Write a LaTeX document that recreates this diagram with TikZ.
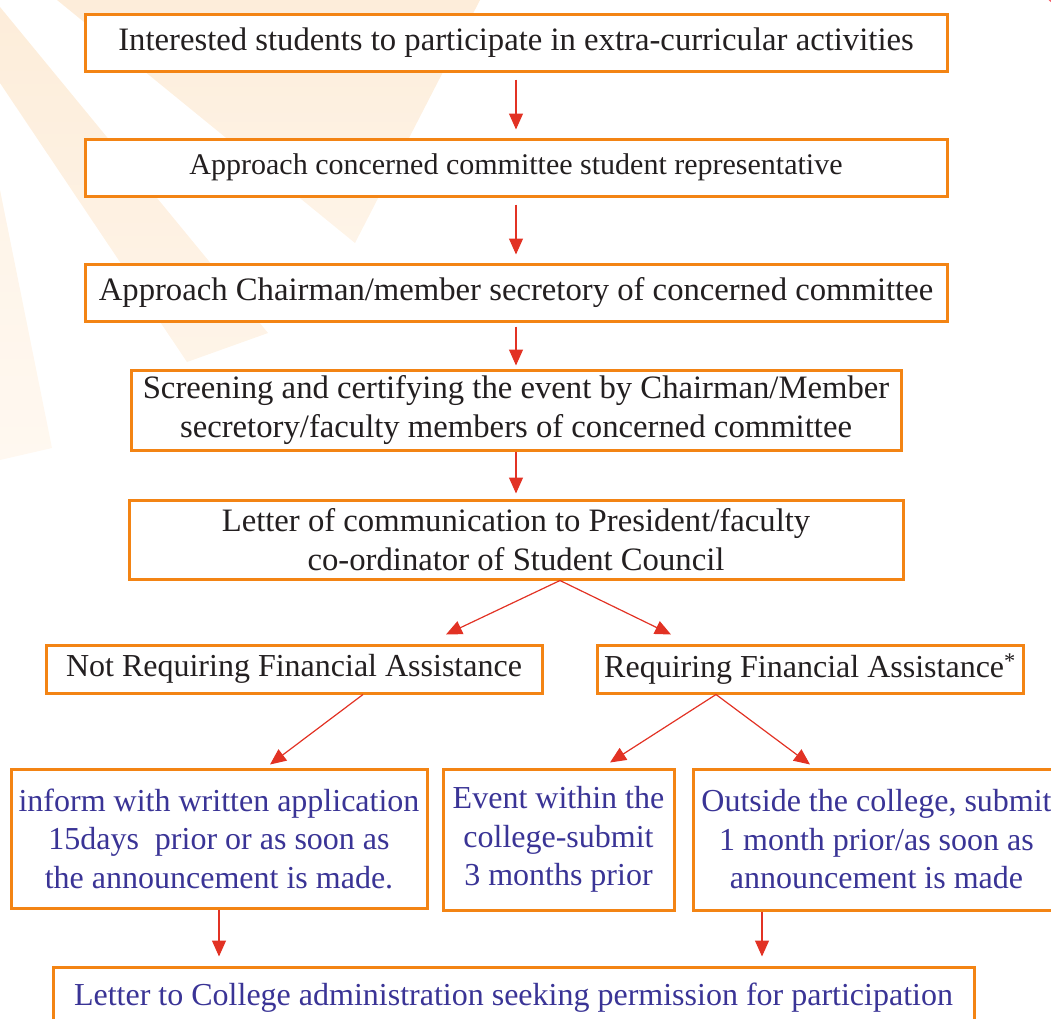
\documentclass[tikz,border=0pt]{standalone}
\usepackage{fontspec}
\setmainfont{Liberation Serif}
\usetikzlibrary{arrows.meta,calc}
\definecolor{boxorange}{RGB}{243,132,20}
\definecolor{arrred}{RGB}{226,50,36}
\definecolor{txtblue}{RGB}{58,52,150}
\definecolor{txtblack}{RGB}{35,31,32}
\definecolor{rayTop}{RGB}{253,237,218}
\definecolor{rayMid}{RGB}{254,244,232}
\definecolor{rayLow}{RGB}{255,248,240}
\definecolor{sunred}{RGB}{245,95,105}
\begin{document}
\begin{tikzpicture}[x=1pt,y=-1pt,
  box/.style={draw=boxorange, line width=3pt, fill=white, inner sep=0pt, align=center,
    text=txtblack, font=\fontsize{32}{38.5}\selectfont},
  bigbox/.style={box, font=\fontsize{32.7}{38.5}\selectfont},
  bluebox/.style={box, text=txtblue},
  arr/.style={draw=arrred, line width=1.2pt, -{Triangle[length=16pt,width=14pt]}}]
\useasboundingbox (0,0) rectangle (1051,1018);
\clip (0,0) rectangle (1051,1018);
% background rays
\shade[top color=rayTop, bottom color=rayMid] (57,0) -- (480,0) -- (355,243) -- cycle;
\shade[top color=rayTop, bottom color=rayMid] (0,7) -- (268,333) -- (187,362) -- (0,83) -- cycle;
\shade[top color=rayMid, bottom color=rayLow] (0,190) -- (52,448) -- (0,460) -- cycle;
\fill[sunred] (1062,-12) circle (18);
% boxes
\node[bigbox, minimum width=862, minimum height=57] (b1) at (516,42.5)
  {Interested students to participate in extra-curricular activities};
\node[box, minimum width=862, minimum height=57, font=\fontsize{30}{36}\selectfont] (b2) at (516,167.5)
  {Approach concerned committee student representative};
\node[bigbox, minimum width=862, minimum height=57] (b3) at (516,292.5)
  {Approach Chairman/member secretory of concerned committee};
\node[bigbox, minimum width=770, minimum height=80] (b4) at (516,410)
  {Screening and certifying the event by Chairman/Member\\secretory/faculty members of concerned committee};
\node[bigbox, minimum width=774, minimum height=79] (b5) at (516,539.5)
  {Letter of communication to President/faculty\\co-ordinator of Student Council};
\node[box, minimum width=496, minimum height=48] (b6) at (294,669)
  {Not Requiring Financial Assistance};
\node[box, minimum width=426, minimum height=48] (b7) at (810,669)
  {Requiring Financial Assistance\textsuperscript{*}};
\node[bluebox, minimum width=416, minimum height=139] (b8) at (219,838.5)
  {inform with written application\\15days\ \ prior or as soon as\\the announcement is made.};
\node[bluebox, minimum width=231, minimum height=141] (b9) at (558.5,839.5)
  {Event within the\\college-submit\\3 months prior};
\node[bluebox, minimum width=367, minimum height=141] (b10) at (876.5,839.5)
  {Outside the college, submit\\1 month prior/as soon as\\announcement is made};
\node[bluebox, minimum width=921, minimum height=73] (b11) at (513.5,1003.5)
  {\raisebox{18pt}{Letter to College administration seeking permission for participation}};
% connectors
\draw[arr, shorten <=7pt, shorten >=8pt] (b1) -- (b2);
\draw[arr, shorten <=7pt, shorten >=8pt] (b2) -- (b3);
\draw[arr, shorten <=4pt, shorten >=3pt] (b3) -- (b4);
\draw[arr, shorten >=5pt] (b4) -- (b5);
\draw[arr] ($(b5.south)+(44,0)$) -- ($(b6.north)+(152,-9)$);
\draw[arr] ($(b5.south)+(44,0)$) -- ($(b7.north)+(-139,-9)$);
\draw[arr] ($(b6.south)+(69,0)$) -- ($(b8.north)+(51,-3)$);
\draw[arr] ($(b7.south)+(-94,0)$) -- ($(b9.north)+(51.5,-5)$);
\draw[arr] ($(b7.south)+(-94,0)$) -- ($(b10.north)+(-66.5,-3)$);
\draw[arr, shorten >=9pt] (b8.south) -- (b8.south |- b11.north);
\draw[arr, shorten >=9pt] ($(b10.south)+(-114.5,0)$) -- ($(b10.south |- b11.north)+(-114.5,0)$);
\end{tikzpicture}
\end{document}
